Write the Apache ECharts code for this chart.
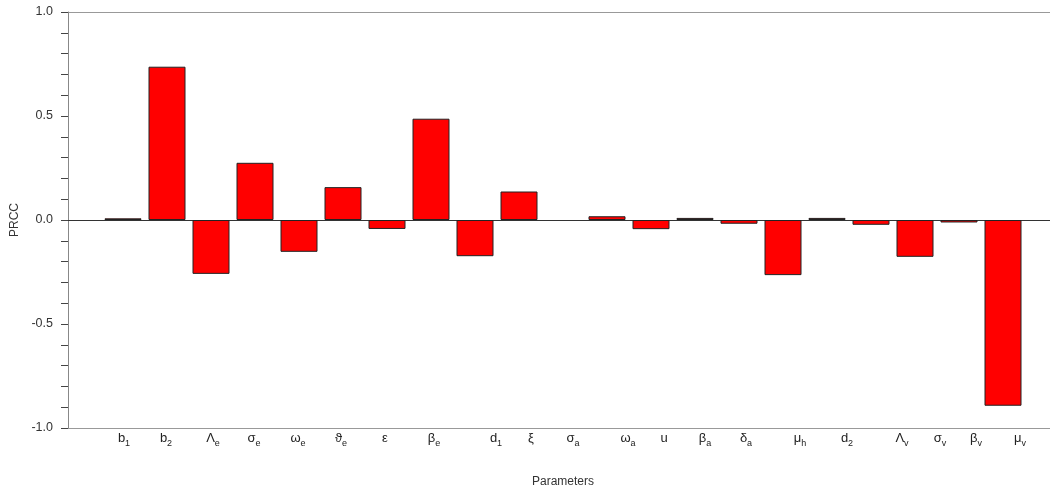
<!DOCTYPE html>
<html>
<head>
<meta charset="utf-8">
<script src="https://cdn.jsdelivr.net/npm/echarts@6/dist/echarts.min.js"></script>
<style>
html,body{margin:0;padding:0;background:#fff;}
#chart{width:1050px;height:495px;}
</style>
</head>
<body>
<div id="chart"></div>
<script>
// Parameter names: base symbol and subscript
const paramBase = ['b','b','Λ','σ','ω','ϑ','ε','β','d','ξ','σ','ω','u','β','δ','μ','d','Λ','σ','β','μ'];
const paramSub  = ['1','2','e','e','e','e','','e','1','','a','a','','a','a','h','2','v','v','v','v'];
const categories = paramBase.map((b, i) => b + (paramSub[i] ? '_' + paramSub[i] : ''));
// PRCC values
const prcc = [0.008, 0.737, -0.259, 0.275, -0.153, 0.158, -0.043, 0.487, -0.174, 0.137,
              0.0, 0.018, -0.044, 0.010, -0.018, -0.265, 0.010, -0.023, -0.177, -0.012, -0.893];
// Y-axis tick labels
const yTicks = [-1.0, -0.5, 0.0, 0.5, 1.0];

// label drift (px) seen in the reference, style only
const labelShift = [1,-1,2,-1,-1,-2,-2,3,21,12,10,21,13,10,7,17,20,31,25,17,17];

const font = "'Liberation Sans', Arial, sans-serif";
const chart = echarts.init(document.getElementById('chart'), null, {renderer: 'canvas'});

const option = {
  backgroundColor: '#ffffff',
  animation: false,
  grid: [
    {left: 68, right: 0, top: 12, bottom: 67, containLabel: false},
    {left: 101, right: 25, top: 12, bottom: 67, containLabel: false}
  ],
  xAxis: [
    {
      gridIndex: 0, type: 'value', min: 0, max: 1,
      axisLine: {show: true, lineStyle: {color: '#333', width: 1}},
      axisTick: {show: false}, axisLabel: {show: false}, splitLine: {show: false}
    },
    {
      gridIndex: 1, type: 'category', data: categories, boundaryGap: true,
      axisLine: {show: false}, axisTick: {show: false}, splitLine: {show: false},
      name: 'Parameters', nameLocation: 'middle', nameGap: 48,
      nameTextStyle: {fontFamily: font, fontSize: 12, color: '#333'},
      axisLabel: {
        show: true, interval: 0, margin: 2,
        formatter: function (val, idx) {
          const parts = val.split('_');
          const d = labelShift[idx] || 0;
          let s = '';
          if (d > 0) s += '{g' + d + '|}';
          s += '{a|' + parts[0] + '}';
          if (parts[1]) s += '{s|' + parts[1] + '}';
          if (d < 0) s += '{g' + (-d) + '|}';
          return s;
        },
        rich: (function () {
          const r = {
            a: {fontFamily: font, fontSize: 13, color: '#222', lineHeight: 18, verticalAlign: 'bottom', padding: [0, 0, 3, 0]},
            s: {fontFamily: font, fontSize: 9, color: '#222', lineHeight: 18, verticalAlign: 'bottom'}
          };
          for (let k = 1; k <= 40; k++) r['g' + k] = {width: 2 * k, height: 1};
          return r;
        })()
      }
    }
  ],
  yAxis: [
    {
      gridIndex: 0, type: 'value', min: -1, max: 1, interval: 0.5,
      axisLine: {show: true, lineStyle: {color: '#888', width: 1}},
      axisTick: {show: true, length: 7, lineStyle: {color: '#444'}},
      minorTick: {show: true, splitNumber: 5, length: 7, lineStyle: {color: '#444'}},
      splitLine: {show: false},
      axisLabel: {
        margin: 15, fontFamily: font, fontSize: 12.5, color: '#333',
        formatter: v => { const t = yTicks.find(x => Math.abs(x - v) < 1e-9); return t === undefined ? '' : t.toFixed(1); }
      },
      name: 'PRCC', nameLocation: 'middle', nameGap: 45, nameRotate: 90,
      nameTextStyle: {fontFamily: font, fontSize: 12, color: '#333'}
    },
    {
      gridIndex: 0, type: 'value', min: -1, max: 1, interval: 1,
      axisLine: {show: false}, axisTick: {show: false}, axisLabel: {show: false},
      splitLine: {show: true, lineStyle: {color: '#999', width: 1}}
    },
    {
      gridIndex: 1, type: 'value', min: -1, max: 1, show: false
    }
  ],
  series: [
    {
      type: 'bar', xAxisIndex: 1, yAxisIndex: 2,
      data: prcc.map(v => v === 0 ? {value: v, itemStyle: {borderWidth: 0, opacity: 0}} : v),
      barWidth: 37,
      itemStyle: {color: '#ff0000', borderColor: '#222', borderWidth: 1},
      emphasis: {disabled: true}
    }
  ]
};
chart.setOption(option);
</script>
</body>
</html>
